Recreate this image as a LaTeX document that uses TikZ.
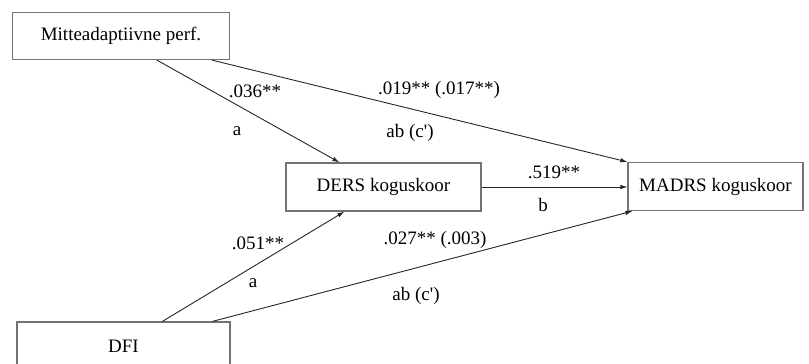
\documentclass[tikz,border=0pt]{standalone}
\usepackage{fontspec}
\setmainfont{Liberation Serif}
\usetikzlibrary{arrows.meta}
\begin{document}
\begin{tikzpicture}[x=1pt,y=-1pt,
  box/.style={draw=black!55,line width=1.2pt,rectangle,inner sep=0pt,font=\fontsize{19}{22}\selectfont},
  lbl/.style={inner sep=0pt,font=\fontsize{19}{22}\selectfont},
  arr/.style={draw=black!85,line width=0.9pt,-{Latex[length=7pt,width=4.5pt]}}]
\useasboundingbox[fill=white] (0,0) rectangle (809,364);
\node[box,minimum width=217pt,minimum height=47pt] (mitte) at (121,36) {Mitteadaptiivne perf.};
\node[box,minimum width=195pt,minimum height=48pt] (ders) at (383.5,187) {DERS koguskoor};
\node[box,minimum width=175pt,minimum height=48pt] (madrs) at (715.5,186.5) {MADRS koguskoor};
\node[box,minimum width=213pt,minimum height=48pt] (dfi) at (123.5,346) {DFI};
\draw[arr] ([xshift=145pt]mitte.south west) -- ([xshift=54pt]ders.north west);
\draw[arr] ([xshift=200pt]mitte.south west) -- (madrs.north west);
\draw[arr] (ders.east) -- (ders.east -| madrs.west);
\draw[arr] ([xshift=146pt]dfi.north west) -- ([xshift=59pt]ders.south west);
\draw[arr] ([xshift=196pt]dfi.north west) -- ([xshift=5pt]madrs.south west);
\node[lbl] (l1) at (255,91) {.036**};
\node[lbl] (l2) at (237,131) {a};
\node[lbl] (l3) at (439,90) {.019** (.017**)};
\node[lbl] (l4) at (410,133) {ab (c\textquotesingle)};
\node[lbl] (l5) at (554,172) {.519**};
\node[lbl] (l6) at (543,205) {b};
\node[lbl] (l7) at (258,243) {.051**};
\node[lbl] (l8) at (253,283) {a};
\node[lbl] (l9) at (435,240) {.027** (.003)};
\node[lbl] (l10) at (416,296) {ab (c\textquotesingle)};
\end{tikzpicture}
\end{document}
